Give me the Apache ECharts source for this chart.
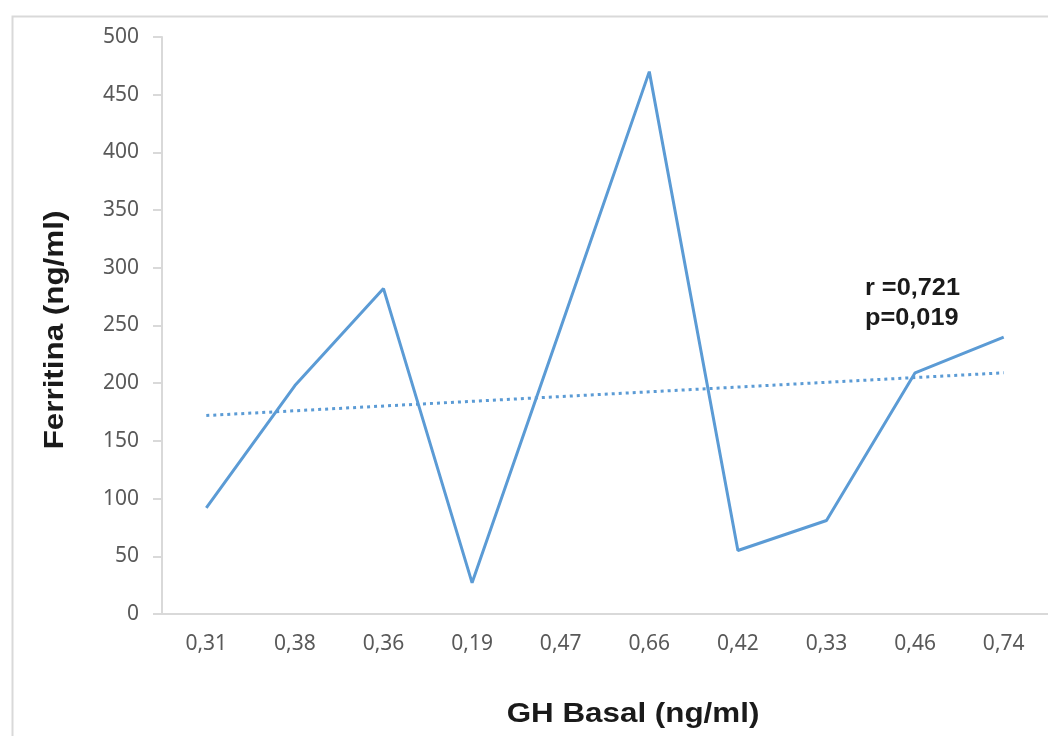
<!DOCTYPE html>
<html>
<head>
<meta charset="utf-8">
<script src="https://cdn.jsdelivr.net/npm/echarts@6/dist/echarts.min.js"></script>
<style>
  html, body { margin: 0; padding: 0; background: #fff; }
  #chart { width: 1048px; height: 736px; }
</style>
</head>
<body>
<div id="chart"></div>
<script>
// GH basal values on the x axis (category order as in the picture)
var categories = ['0,31', '0,38', '0,36', '0,19', '0,47', '0,66', '0,42', '0,33', '0,46', '0,74'];
// ferritina values
var ferritina = [92, 198, 282, 27, 248, 470, 55, 81, 209, 240];
// dotted trend line, read at both ends
var trend = [172, null, null, null, null, null, null, null, null, 209];
var yTicks = { min: 0, max: 500, interval: 50 };

var chart = echarts.init(document.getElementById('chart'));
var blue = '#5b9bd5';
var tickFont = '"Noto Sans", "DejaVu Sans", sans-serif';
var titleFont = '"Liberation Sans", Arial, sans-serif';

chart.setOption({
  animation: false,
  backgroundColor: '#fff',
  grid: { left: 162, top: 37, width: 891, height: 577 },
  xAxis: {
    type: 'category',
    data: categories,
    boundaryGap: true,
    axisLine: { lineStyle: { color: '#d9d9d9', width: 2 } },
    axisTick: { show: false },
    axisLabel: { color: '#595959', fontSize: 21, fontFamily: tickFont, margin: 20 },
    splitLine: { show: false }
  },
  yAxis: {
    type: 'value',
    min: yTicks.min,
    max: yTicks.max,
    interval: yTicks.interval,
    axisLine: { show: true, lineStyle: { color: '#d9d9d9', width: 2 } },
    axisTick: { show: true, length: 9, lineStyle: { color: '#d9d9d9', width: 2 } },
    axisLabel: { color: '#595959', fontSize: 21, fontFamily: tickFont, margin: 23 },
    splitLine: { show: false }
  },
  graphic: [
    {
      type: 'rect',
      left: 10, top: 14,
      shape: { width: 1100, height: 800 },
      style: { fill: 'none', stroke: '#d9d9d9', lineWidth: 2 },
      z: -1
    },
    {
      type: 'text',
      x: 55, y: 330,
      rotation: Math.PI / 2,
      scaleX: 1.12,
      style: {
        text: 'Ferritina (ng/ml)',
        font: 'bold 28px ' + titleFont,
        fill: '#1a1a1a',
        textAlign: 'center',
        textVerticalAlign: 'middle'
      }
    },
    {
      type: 'text',
      x: 633, y: 714,
      scaleX: 1.12,
      style: {
        text: 'GH Basal (ng/ml)',
        font: 'bold 28px ' + titleFont,
        fill: '#1a1a1a',
        textAlign: 'center',
        textVerticalAlign: 'middle'
      }
    },
    {
      type: 'text',
      x: 865, y: 289,
      scaleX: 1.1,
      style: {
        text: 'r =0,721',
        font: 'bold 23px ' + titleFont,
        fill: '#1a1a1a',
        textVerticalAlign: 'middle'
      }
    },
    {
      type: 'text',
      x: 865, y: 319,
      scaleX: 1.1,
      style: {
        text: 'p=0,019',
        font: 'bold 23px ' + titleFont,
        fill: '#1a1a1a',
        textVerticalAlign: 'middle'
      }
    }
  ],
  series: [
    {
      name: 'Ferritina',
      type: 'line',
      data: ferritina,
      symbol: 'none',
      lineStyle: { color: blue, width: 3 },
      z: 3
    },
    {
      name: 'Tendencia',
      type: 'line',
      data: trend,
      connectNulls: true,
      symbol: 'none',
      lineStyle: { color: blue, width: 3, type: [3, 4] },
      z: 2
    }
  ]
});
</script>
</body>
</html>
